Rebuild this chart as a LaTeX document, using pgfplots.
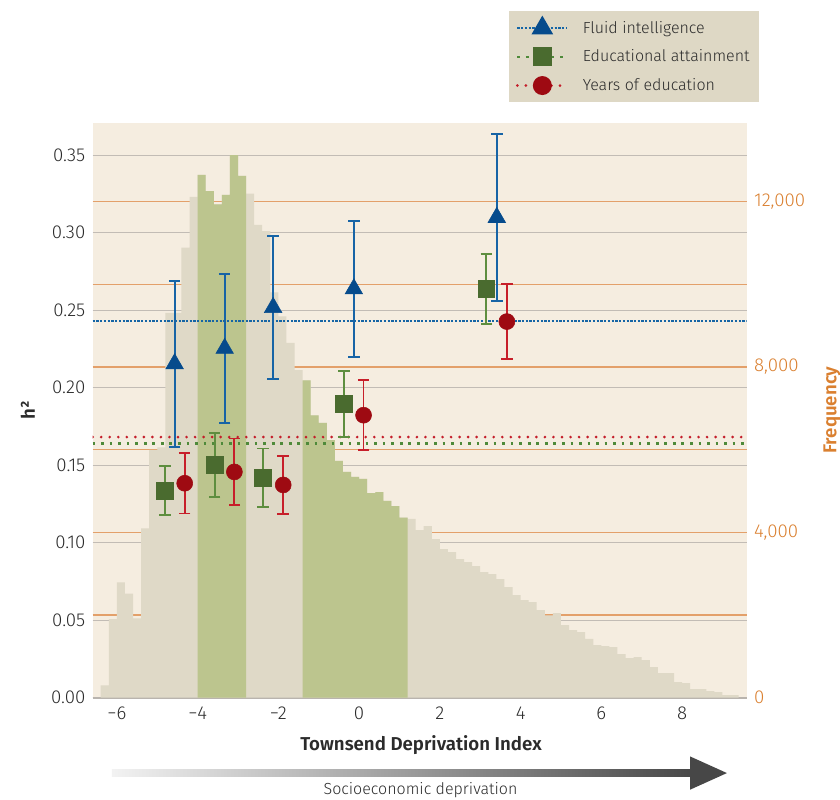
\documentclass[border=0pt]{standalone}
\usepackage{pgfplots}
\pgfplotsset{compat=1.18}
\usepackage{fontspec}
\setmainfont{Fira Sans Light}[BoldFont={Fira Sans SemiBold}]
\definecolor{bgcream}{HTML}{F5EDE0}
\definecolor{histbeige}{HTML}{DFD9C7}
\definecolor{histgreen}{HTML}{BCC58E}
\definecolor{gridgray}{HTML}{C2BCB5}
\definecolor{gridorange}{HTML}{E3A06A}
\definecolor{orangetext}{HTML}{DA8030}
\definecolor{bluemark}{HTML}{064B8C}
\definecolor{blueerr}{HTML}{1764A6}
\definecolor{blueline}{HTML}{1565A5}
\definecolor{greenmark}{HTML}{4A6B2F}
\definecolor{greenerr}{HTML}{5E8E3F}
\definecolor{greenline}{HTML}{4F8A3A}
\definecolor{redmark}{HTML}{9E0A12}
\definecolor{rederr}{HTML}{C71F2A}
\definecolor{redline}{HTML}{C41E2A}
\definecolor{legendbg}{HTML}{DED8C5}
\definecolor{axisgray}{HTML}{B9B4AE}
\definecolor{textdark}{HTML}{2B2B2B}
\tikzset{
  bluedots/.style={color=blueline, line width=1.8pt, dash pattern=on 1.7pt off 1.1pt},
  greendots/.style={color=greenline, line width=2pt, dash pattern=on 2pt off 4.4pt},
  reddots/.style={color=redline, line width=2.2pt, line cap=round, dash pattern=on 0pt off 6.4pt},
}
\pgfplotsset{
  errbars/.style={forget plot, only marks, mark=none,
    error bars/.cd, y dir=both, y explicit,
    error bar style={color=#1, line width=1.4pt, solid},
    error mark=-,
    error mark options={rotate=90, color=#1, line width=1.4pt, mark size=4.3pt, solid}},
}
\begin{document}
\begin{tikzpicture}
\useasboundingbox (-69.5pt,-76pt) rectangle (560.5pt,523.3pt);
% ---------- histogram axis (right scale) ----------
\begin{axis}[
  at={(0pt,0pt)}, anchor=south west, scale only axis,
  width=490.5pt, height=431.25pt,
  xmin=-6.6, xmax=9.6, ymin=0, ymax=13912.5,
  scaled y ticks=false,
  axis background/.style={fill=bgcream},
  axis x line*=bottom, axis y line*=right,
  x axis line style={draw=axisgray, line width=1.8pt, -},
  y axis line style={draw=none},
  xtick={-6,-4,-2,0,2,4,6,8}, xticklabels={−6,−4,−2,0,2,4,6,8},
  ytick={0,2000,4000,6000,8000,10000,12000},
  yticklabels={0,,{4,000},,{8,000},,{12,000}},
  ymajorgrids, major grid style={draw=gridorange, line width=0.9pt},
  extra y ticks={1875,3750,5625,7500,9375,11250,13125},
  extra y tick labels={},
  extra y tick style={grid=major, major grid style={draw=gridgray, line width=0.9pt}},
  major tick length=0pt,
  tick label style={font=\fontsize{14}{16}\selectfont},
  yticklabel style={text=orangetext, xshift=2pt},
  xticklabel style={text=textdark, yshift=-3pt},
  xlabel={Townsend Deprivation Index},
  xlabel style={font=\bfseries\fontsize{14}{16}\selectfont, text=textdark, at={(axis description cs:0.502,-0.082)}, anchor=center},
]
\addplot[const plot mark left, fill=histbeige, draw=none] coordinates {
(-6.4,300) (-6.2,1900) (-6.0,2790) (-5.8,2520) (-5.6,1920) (-5.4,4100) (-5.2,6000) (-5.0,6060)
(-4.8,9310) (-4.6,9310) (-4.4,10890) (-4.2,12120) (-4.0,12650) (-3.8,12260) (-3.6,11940) (-3.4,12165)
(-3.2,13126) (-3.0,12625) (-2.8,12197) (-2.6,11440) (-2.4,11290) (-2.2,9810) (-2.0,9230) (-1.8,8585)
(-1.6,7925) (-1.4,7680) (-1.2,6830) (-1.0,6650) (-0.8,6234) (-0.6,5731) (-0.4,5462) (-0.2,5341)
(0.0,5297) (0.2,4951) (0.4,4977) (0.6,4760) (0.8,4638) (1.0,4360) (1.2,4325) (1.4,4058)
(1.6,4155) (1.8,3840) (2.0,3598) (2.2,3525) (2.4,3356) (2.6,3283) (2.8,3186) (3.0,3041)
(3.2,2993) (3.4,2872) (3.6,2678) (3.8,2485) (4.0,2364) (4.2,2315) (4.4,2122) (4.6,1994)
(4.8,2049) (5.0,1759) (5.2,1638) (5.4,1590) (5.6,1421) (5.8,1275) (6.0,1251) (6.2,1227)
(6.4,1057) (6.6,960) (6.8,985) (7.0,912) (7.2,743) (7.4,598) (7.6,598) (7.8,380)
(8.0,356) (8.2,211) (8.4,211) (8.6,162) (8.8,138) (9.0,60) (9.2,60) (9.4,60)
} \closedcycle;
\addplot[const plot mark left, fill=histgreen, draw=none] coordinates {
(-4.0,12650) (-3.8,12260) (-3.6,11940) (-3.4,12165) (-3.2,13126) (-3.0,12625) (-2.8,12625)
} \closedcycle;
\addplot[const plot mark left, fill=histgreen, draw=none] coordinates {
(-1.4,7680) (-1.2,6830) (-1.0,6650) (-0.8,6234) (-0.6,5731) (-0.4,5462) (-0.2,5341)
(0.0,5297) (0.2,4951) (0.4,4977) (0.6,4760) (0.8,4638) (1.0,4360) (1.2,4360)
} \closedcycle;
\end{axis}
% ---------- h2 axis (left scale) ----------
\begin{axis}[
  at={(0pt,0pt)}, anchor=south west, scale only axis,
  width=490.5pt, height=431.25pt,
  xmin=-6.6, xmax=9.6, ymin=0, ymax=0.371,
  hide x axis, axis y line*=left,
  y axis line style={draw=none},
  major tick length=0pt,
  ytick={0,0.05,0.10,0.15,0.20,0.25,0.30,0.35},
  yticklabels={0.00,0.05,0.10,0.15,0.20,0.25,0.30,0.35},
  tick label style={font=\fontsize{14}{16}\selectfont},
  yticklabel style={text=textdark, xshift=-2pt},
  ylabel={h²},
  ylabel style={font=\bfseries\fontsize{14}{16}\selectfont, text=textdark, at={(axis description cs:-0.099,0.5)}, anchor=center},
  legend style={at={(axis description cs:0.6365,1.1942)}, anchor=north west,
    fill=legendbg, draw=none, font=\fontsize{12}{14}\selectfont, text=textdark,
    inner xsep=5pt, inner ysep=5pt, row sep=7pt,
    /tikz/every odd column/.append style={column sep=8.5pt}},
  legend cell align=left,
  legend image code/.code={\draw[mark repeat=2,mark phase=2,#1] plot coordinates {(0pt,0pt) (18.75pt,0pt) (37.5pt,0pt)};},
]
\addlegendimage{bluedots, mark=triangle*, mark size=7.6pt, mark options={solid, fill=bluemark, draw=bluemark}}
\addlegendentry{Fluid intelligence}
\addlegendimage{greendots, mark=square*, mark size=6.2pt, mark options={solid, fill=greenmark, draw=greenmark}}
\addlegendentry{Educational attainment}
\addlegendimage{reddots, mark=*, mark size=6pt, mark options={solid, fill=redmark, draw=redmark}}
\addlegendentry{Years of education}
% reference lines
\addplot[forget plot, bluedots] coordinates {(-6.6,0.2430) (9.6,0.2430)};
\addplot[forget plot, greendots] coordinates {(-6.6,0.1641) (9.6,0.1641)};
\addplot[forget plot, reddots] coordinates {(-6.6,0.1682) (9.6,0.1682)};
% fluid intelligence
\addplot[errbars=blueerr] coordinates {
(-4.57,0.2155) +- (0,0.0535)
(-3.33,0.2254) +- (0,0.0480)
(-2.13,0.2518) +- (0,0.0461)
(-0.13,0.2638) +- (0,0.0440)
(3.41,0.3099) +- (0,0.0540)
};
\addplot[forget plot, only marks, mark=triangle*, mark size=7.6pt,
  mark options={fill=bluemark, draw=bluemark}] coordinates {
(-4.57,0.2155) (-3.33,0.2254) (-2.13,0.2518) (-0.13,0.2638) (3.41,0.3099)
};
% educational attainment
\addplot[errbars=greenerr] coordinates {
(-4.81,0.1337) +- (0,0.0158)
(-3.58,0.1502) +- (0,0.0205)
(-2.38,0.1420) +- (0,0.0188)
(-0.38,0.1897) +- (0,0.0213)
(3.15,0.2639) +- (0,0.0226)
};
\addplot[forget plot, only marks, mark=square*, mark size=6.2pt,
  mark options={fill=greenmark, draw=greenmark}] coordinates {
(-4.81,0.1337) (-3.58,0.1502) (-2.38,0.1420) (-0.38,0.1897) (3.15,0.2639)
};
% years of education
\addplot[errbars=rederr] coordinates {
(-4.32,0.1384) +- (0,0.0195)
(-3.09,0.1457) +- (0,0.0216)
(-1.88,0.1373) +- (0,0.0188)
(0.11,0.1823) +- (0,0.0227)
(3.66,0.2427) +- (0,0.0244)
};
\addplot[forget plot, only marks, mark=*, mark size=6pt,
  mark options={fill=redmark, draw=redmark}] coordinates {
(-4.32,0.1384) (-3.09,0.1457) (-1.88,0.1373) (0.11,0.1823) (3.66,0.2427)
};
\end{axis}
% right axis title
\node[rotate=90, font=\bfseries\fontsize{14}{16}\selectfont, text=orangetext] at (554.5pt,215.8pt) {Frequency};
% socioeconomic deprivation arrow
\shade[left color=black!5, right color=black!72] (14.5pt,-59.1pt) rectangle (451pt,-53.9pt);
\fill[black!72] (448pt,-44pt) -- (475.7pt,-56.5pt) -- (448pt,-69pt) -- cycle;
\node[font=\fontsize{12}{14}\selectfont, text=textdark] at (245.9pt,-69.5pt) {Socioeconomic deprivation};
\end{tikzpicture}
\end{document}
